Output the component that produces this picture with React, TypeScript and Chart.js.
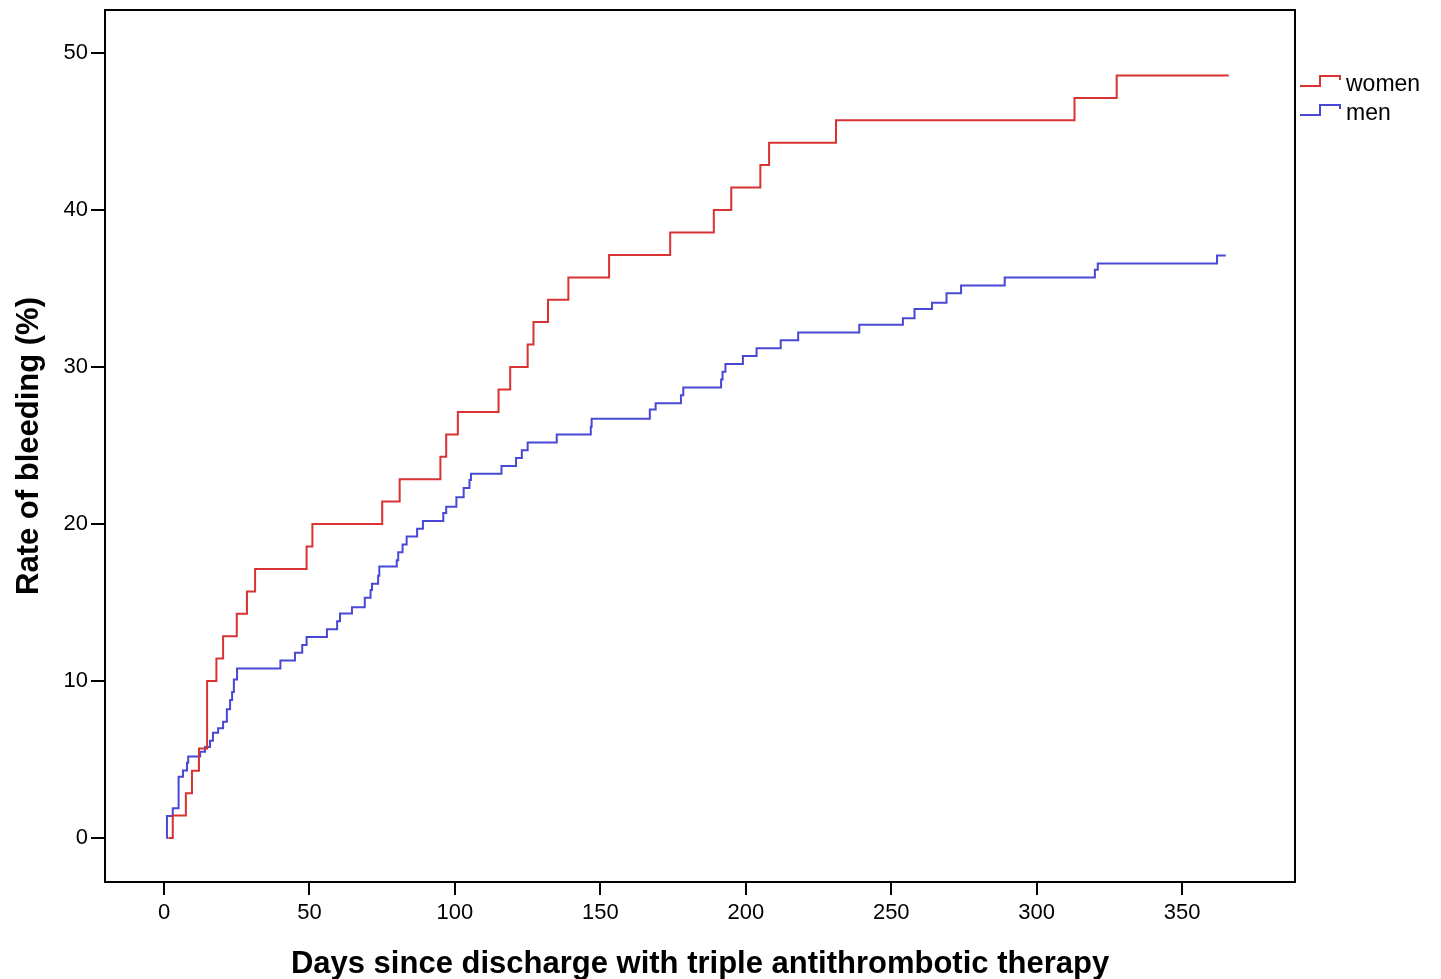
import React, { useEffect, useRef } from "react";
import { Chart, registerables } from "chart.js";

Chart.register(...registerables);

const X_TICKS = [0, 50, 100, 150, 200, 250, 300, 350];
const Y_TICKS = [0, 10, 20, 30, 40, 50];

const SERIES_LABELS = ["women", "men"];

const womenDays = [1.5, 3, 7.5, 9.6, 12, 14.8, 18, 20.3, 25, 28.5, 31.3, 49, 51, 75, 81, 95, 97, 101, 115, 119, 125, 127, 132, 139, 153, 174, 189, 195, 205, 208, 231, 313, 327.5, 366];
const womenRates = [0, 1.43, 2.86, 4.29, 5.71, 10.0, 11.43, 12.86, 14.29, 15.71, 17.14, 18.57, 20.0, 21.43, 22.86, 24.29, 25.71, 27.14, 28.57, 30.0, 31.43, 32.86, 34.29, 35.71, 37.14, 38.57, 40.0, 41.43, 42.86, 44.29, 45.71, 47.14, 48.57, 48.57];

const menDays = [0.8, 1, 3, 5, 6.5, 7.9, 8.3, 12.4, 14.1, 15.8, 16.8, 18.6, 20.3, 21.6, 22.7, 23.4, 24, 25.1, 40, 45, 47.5, 49, 56, 59.5, 60.5, 64.6, 69, 71, 71.5, 73.6, 74, 80, 80.5, 82, 83.4, 87, 89, 96, 97, 100.5, 103, 105, 105.5, 116, 121, 123, 125, 135, 146.7, 147, 167, 169, 177.7, 178.5, 191.5, 192, 193, 199, 203.7, 212, 218, 239, 254, 258, 264, 269, 274, 289, 320, 321, 362, 365];
const menRates = [0, 1.4, 1.9, 3.9, 4.3, 4.8, 5.2, 5.5, 5.8, 6.2, 6.7, 7.0, 7.4, 8.2, 8.8, 9.3, 10.1, 10.8, 11.3, 11.8, 12.3, 12.8, 13.3, 13.8, 14.3, 14.7, 15.3, 15.8, 16.2, 16.7, 17.3, 17.7, 18.2, 18.7, 19.2, 19.7, 20.2, 20.7, 21.1, 21.7, 22.3, 22.8, 23.2, 23.7, 24.2, 24.7, 25.2, 25.7, 26.2, 26.7, 27.3, 27.7, 28.2, 28.7, 29.2, 29.7, 30.2, 30.7, 31.2, 31.7, 32.2, 32.7, 33.1, 33.7, 34.1, 34.7, 35.2, 35.7, 36.2, 36.6, 37.1, 37.1];

const RED = "#d83232";
const BLUE = "#4848d4";
const FONT = "'Liberation Sans', Arial, sans-serif";

export default function App() {
  const ref = useRef<HTMLCanvasElement | null>(null);

  useEffect(() => {
    const canvas = ref.current;
    if (!canvas) return;
    Chart.defaults.color = "#000";
    Chart.defaults.font.family = FONT;

    const framePlugin = {
      id: "frame",
      afterDraw(chart: any) {
        const { ctx, chartArea } = chart;
        ctx.save();
        ctx.strokeStyle = "#000";
        ctx.lineWidth = 2;
        ctx.strokeRect(chartArea.left, chartArea.top, chartArea.right - chartArea.left, chartArea.bottom - chartArea.top);
        ctx.restore();
      },
    };

    const legendPlugin = {
      id: "stepLegend",
      afterDraw(chart: any) {
        const { ctx, chartArea } = chart;
        const colors = [RED, BLUE];
        ctx.save();
        ctx.font = "23px " + FONT;
        ctx.textBaseline = "middle";
        ctx.textAlign = "left";
        SERIES_LABELS.forEach((label, i) => {
          const base = 86 + i * 29;
          const x0 = chartArea.right + 5;
          ctx.strokeStyle = colors[i];
          ctx.lineWidth = 2;
          ctx.beginPath();
          ctx.moveTo(x0, base);
          ctx.lineTo(x0 + 20, base);
          ctx.lineTo(x0 + 20, base - 10);
          ctx.lineTo(x0 + 40, base - 10);
          ctx.lineTo(x0 + 40, base - 6);
          ctx.stroke();
          ctx.fillStyle = "#000";
          ctx.fillText(label, x0 + 46, base - 1);
        });
        ctx.restore();
      },
    };

    const chart = new Chart(canvas, {
      type: "line",
      data: {
        datasets: [
          {
            label: SERIES_LABELS[0],
            data: womenDays.map((d, i) => ({ x: d, y: womenRates[i] })),
            borderColor: RED,
            borderWidth: 2,
            pointRadius: 0,
            fill: false,
            stepped: "before",
          },
          {
            label: SERIES_LABELS[1],
            data: menDays.map((d, i) => ({ x: d, y: menRates[i] })),
            borderColor: BLUE,
            borderWidth: 2,
            pointRadius: 0,
            fill: false,
            stepped: "before",
          },
        ],
      },
      options: {
        animation: false,
        responsive: false,
        layout: { padding: { left: 0, top: 10, right: 146, bottom: 0 } },
        plugins: {
          legend: { display: false },
          tooltip: { enabled: false },
        },
        scales: {
          x: {
            type: "linear",
            min: -20.3,
            max: 388.8,
            afterBuildTicks: (scale: any) => {
              scale.ticks = X_TICKS.map((v) => ({ value: v }));
            },
            afterFit: (scale: any) => {
              scale.height = 97;
              scale.paddingLeft = 0;
              scale.paddingRight = 0;
            },
            border: { display: false },
            grid: { drawOnChartArea: false, drawTicks: true, tickLength: 13, color: "#000", lineWidth: 2 },
            ticks: { font: { size: 22, family: FONT }, color: "#000", padding: 5, maxRotation: 0, autoSkip: false },
            title: {
              display: true,
              text: "Days since discharge with triple antithrombotic therapy",
              font: { size: 31, weight: "bold", family: FONT },
              color: "#000",
              padding: { top: 0, bottom: -4 },
            },
          },
          y: {
            type: "linear",
            min: -2.8,
            max: 52.74,
            afterBuildTicks: (scale: any) => {
              scale.ticks = Y_TICKS.map((v) => ({ value: v }));
            },
            afterFit: (scale: any) => {
              scale.width = 105;
              scale.paddingTop = 0;
              scale.paddingBottom = 0;
            },
            border: { display: false },
            grid: { drawOnChartArea: false, drawTicks: true, tickLength: 14, color: "#000", lineWidth: 2 },
            ticks: { font: { size: 22, family: FONT }, color: "#000", padding: 3 },
            title: {
              display: true,
              text: "Rate of bleeding (%)",
              font: { size: 31, weight: "bold", family: FONT },
              color: "#000",
              padding: { top: 11, bottom: 0 },
            },
          },
        },
      },
      plugins: [framePlugin, legendPlugin],
    } as any);

    return () => chart.destroy();
  }, []);

  return (
    <div style={{ position: "fixed", left: 0, top: 0, width: 1441, height: 979, background: "#fff" }}>
      <canvas ref={ref} width={1441} height={979} style={{ display: "block" }} />
    </div>
  );
}
